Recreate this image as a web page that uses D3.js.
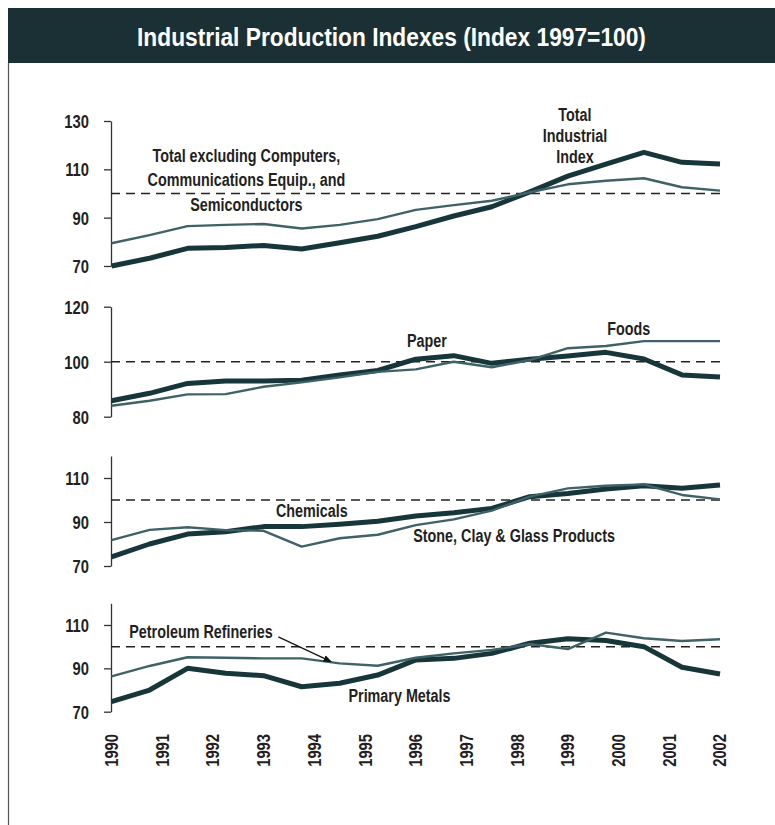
<!DOCTYPE html>
<html>
<head>
<meta charset="utf-8">
<script src="https://cdn.jsdelivr.net/npm/d3@7"></script>
<style>
  html, body { margin: 0; padding: 0; background: #fff; }
  svg { display: block; }
  text { font-family: "Liberation Sans", Arial, sans-serif; font-weight: bold; }
</style>
</head>
<body>
<svg id="chart" width="775" height="825"></svg>
<script>
// Observation dates (fractional years) shared by every series
const periods = [1990, 1990.75, 1991.5, 1992.25, 1993, 1993.75, 1994.5, 1995.25, 1996,
                 1996.75, 1997.5, 1998.25, 1999, 1999.75, 2000.5, 2001.25, 2002];
const yearLabels = [1990, 1991, 1992, 1993, 1994, 1995, 1996, 1997, 1998, 1999, 2000, 2001, 2002];

// Index values, 1997 = 100
const totalIndustrial = [70, 73.2, 77.3, 77.7, 78.5, 77, 79.6, 82.3, 86.3, 90.7, 94.5, 100.7, 107.2, 112.2, 117, 112.9, 112.2];
const totalExclHighTech = [79.4, 82.8, 86.5, 87, 87.4, 85.5, 87, 89.4, 93.2, 95.2, 97, 100.5, 103.8, 105.3, 106.3, 102.6, 101.2];
const paper = [85.8, 88.5, 92.1, 93, 93, 93.3, 95.2, 96.8, 100.9, 102.2, 99.4, 100.9, 102.1, 103.4, 101, 95.2, 94.4];
const foods = [84, 85.8, 88.1, 88.2, 90.9, 92.5, 94.3, 96.3, 97.2, 100, 98, 100.6, 104.9, 105.7, 107.5, 107.5, 107.5];
const chemicals = [74.2, 80, 84.5, 85.6, 87.9, 87.9, 89, 90.3, 92.7, 94.2, 96.2, 101.5, 103, 105, 106.5, 105.3, 106.8];
const stoneClayGlass = [81.8, 86.4, 87.6, 86.3, 86, 78.8, 82.6, 84.2, 88.6, 91.2, 95.2, 101.5, 105.3, 106.5, 107.1, 102.3, 100.3];
const primaryMetals = [74.6, 80, 90, 87.7, 86.6, 81.5, 83.1, 86.9, 93.9, 94.6, 96.9, 101.6, 103.6, 102.8, 100, 90.5, 87.4];
const petroleumRefineries = [86.3, 91.1, 95.1, 94.9, 94.6, 94.6, 92.3, 91.2, 94.9, 96.9, 98.5, 101.2, 98.9, 106.5, 103.9, 102.6, 103.4];

// Y-axis tick values per panel
const panel1Ticks = [70, 90, 110, 130];
const panel2Ticks = [80, 100, 120];
const panel3Ticks = [70, 90, 110];
const panel4Ticks = [70, 90, 110];

const COLOR_THICK = "#17363a";
const COLOR_THIN = "#3f6267";
const COLOR_TEXT = "#231f20";
const NARROW = 0.82; // horizontal squeeze giving a condensed face

const svg = d3.select("#chart");

// Title band and frame
svg.append("rect").attr("x", 8).attr("y", 8).attr("width", 767).attr("height", 55).attr("fill", "#1b3035");
svg.append("text").attr("class", "title").attr("x", 391.5).attr("y", 46).attr("text-anchor", "middle")
  .attr("fill", "#fff").attr("font-size", 26)
  .text("Industrial Production Indexes (Index 1997=100)");
svg.append("line").attr("x1", 8.5).attr("x2", 8.5).attr("y1", 63).attr("y2", 825)
  .attr("stroke", "#555").attr("stroke-width", 1.2);

const x = d3.scaleLinear().domain([1990, 2002]).range([111.5, 720]);
const AXIS_X = 111;

const panels = [
  { domain: [70, 130], range: [266, 121], ticks: panel1Ticks, thick: totalIndustrial, thin: totalExclHighTech,
    labels: [
      { t: 1992.66, v: 113.2, lines: ["Total excluding Computers,", "Communications Equip., and", "Semiconductors"], lh: 24.5, anchor: "middle" },
      { t: 1999.14, v: 130.2, lines: ["Total", "Industrial", "Index"], lh: 21.4, anchor: "middle" }
    ] },
  { domain: [80, 120], range: [416.7, 306.7], ticks: panel2Ticks, thick: paper, thin: foods,
    labels: [
      { t: 1996.22, v: 105.5, lines: ["Paper"], anchor: "middle" },
      { t: 2000.2, v: 109.7, lines: ["Foods"], anchor: "middle" }
    ] },
  { domain: [70, 120], range: [566, 456], ticks: panel3Ticks, thick: chemicals, thin: stoneClayGlass,
    labels: [
      { t: 1993.95, v: 92.1, lines: ["Chemicals"], anchor: "middle" },
      { t: 1997.94, v: 80.8, lines: ["Stone, Clay & Glass Products"], anchor: "middle" }
    ] },
  { domain: [70, 120], range: [711.7, 603.3], ticks: panel4Ticks, thick: primaryMetals, thin: petroleumRefineries,
    labels: [
      { t: 1990.35, v: 104, lines: ["Petroleum Refineries"], anchor: "start" },
      { t: 1995.68, v: 74.3, lines: ["Primary Metals"], anchor: "middle" }
    ],
    arrow: { from: [1993.29, 104.5], to: [1994.33, 93.1] } }
];

svg.append("defs").append("marker")
  .attr("id", "arrowhead").attr("viewBox", "0 0 10 10").attr("refX", 9).attr("refY", 5)
  .attr("markerWidth", 7).attr("markerHeight", 7).attr("orient", "auto")
  .append("path").attr("d", "M0,1 L10,5 L0,9 Z").attr("fill", "#111");

panels.forEach(p => {
  const y = d3.scaleLinear().domain(p.domain).range(p.range);
  const g = svg.append("g");

  // Y axis
  const axis = d3.axisLeft(y).tickValues(p.ticks).tickSize(7).tickSizeOuter(0).tickPadding(15);
  const ag = g.append("g").attr("transform", `translate(${AXIS_X},0)`).call(axis);
  ag.select(".domain").attr("stroke", "#333").attr("stroke-width", 1.3);
  ag.selectAll(".tick line").attr("stroke", "#333").attr("stroke-width", 1.3);
  ag.selectAll(".tick text").attr("fill", COLOR_TEXT).attr("font-size", 18).attr("dy", "0.36em");

  // Reference line at 100
  g.append("line").attr("x1", AXIS_X).attr("x2", x(2002)).attr("y1", y(100)).attr("y2", y(100))
    .attr("stroke", "#222").attr("stroke-width", 1.5).attr("stroke-dasharray", "9,6");

  const line = d3.line().x((d, i) => x(periods[i])).y(d => y(d));
  g.append("path").datum(p.thick).attr("d", line).attr("fill", "none")
    .attr("stroke", COLOR_THICK).attr("stroke-width", 5).attr("stroke-linejoin", "round");
  g.append("path").datum(p.thin).attr("d", line).attr("fill", "none")
    .attr("stroke", COLOR_THIN).attr("stroke-width", 2.4).attr("stroke-linejoin", "round");

  p.labels.forEach(l => {
    l.lines.forEach((s, i) => {
      g.append("text").attr("x", x(l.t)).attr("y", y(l.v) + i * (l.lh || 0))
        .attr("text-anchor", l.anchor).attr("fill", COLOR_TEXT).attr("font-size", 17.5)
        .text(s);
    });
  });

  if (p.arrow) {
    g.append("line")
      .attr("x1", x(p.arrow.from[0])).attr("y1", y(p.arrow.from[1]))
      .attr("x2", x(p.arrow.to[0])).attr("y2", y(p.arrow.to[1]))
      .attr("stroke", "#111").attr("stroke-width", 1.2).attr("marker-end", "url(#arrowhead)");
  }
});

// Year labels under the bottom panel
svg.append("g").selectAll("text").data(yearLabels).join("text")
  .attr("transform", d => `translate(${x(d)},734) rotate(-90)`)
  .attr("text-anchor", "end").attr("dy", "0.36em")
  .attr("fill", COLOR_TEXT).attr("font-size", 18)
  .text(d => d);

// Condense every label horizontally (the title a little less)
svg.selectAll("text").each(function () {
  const w = this.getComputedTextLength();
  const k = this.classList.contains("title") ? 0.875 : NARROW;
  d3.select(this).attr("textLength", w * k).attr("lengthAdjust", "spacingAndGlyphs");
});
</script>
</body>
</html>
